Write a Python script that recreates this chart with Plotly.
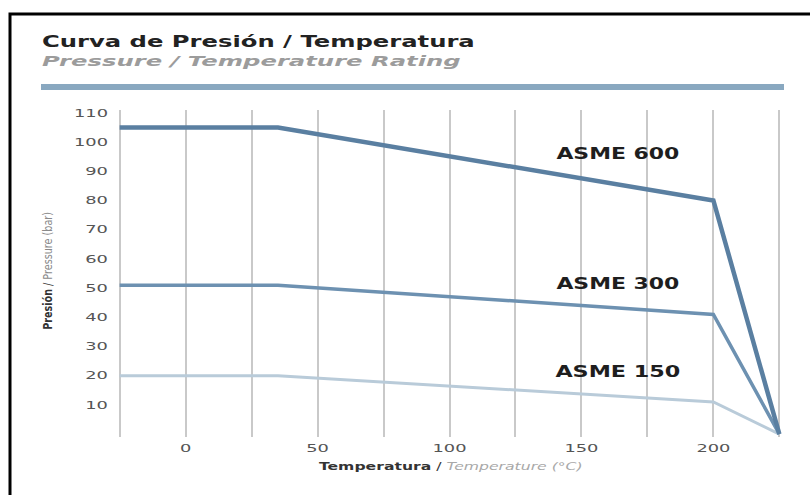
import json
import plotly.graph_objects as go

# Pressure / temperature rating curves (bar vs °C)
temperature = [-25, 35, 200, 225]
asme_600 = [105, 105, 80, 0]
asme_300 = [51, 51, 41, 0]
asme_150 = [20, 20, 11, 0]

series_names = ["ASME 150", "ASME 300", "ASME 600"]
series_values = [asme_150, asme_300, asme_600]
series_colors = ["#b9cbd9", "#6d91b1", "#5a7fa1"]
series_widths = [3, 3.5, 4.5]

# in-plot class labels: (text, temperature, pressure)
class_labels = [("ASME 600", 164, 96), ("ASME 300", 164, 51.5), ("ASME 150", 164, 21.3)]

W, H = 810, 495
ML, MR, MT, MB = 117, 28, 110, 58
PW, PH = W - ML - MR, H - MT - MB


def px(x):
    return (x - ML) / PW


def py(y):
    return 1 - (y - MT) / PH


fig = go.Figure()
for name, vals, col, lw in zip(series_names, series_values, series_colors, series_widths):
    fig.add_trace(go.Scatter(
        x=temperature, y=vals, mode="lines", name=name,
        line=dict(color=col, width=lw), showlegend=False, hoverinfo="skip",
        cliponaxis=False,
    ))

annotations = [
    dict(text="<b>Curva de Presión / Temperatura</b>", xref="paper", yref="paper",
         x=px(40), y=py(41.5), xanchor="left", yanchor="middle", align="left",
         showarrow=False, font=dict(family="DejaVu Sans", size=15, color="#222222")),
    dict(text="<b><i>Pressure / Temperature Rating</i></b>", xref="paper", yref="paper",
         x=px(40), y=py(61), xanchor="left", yanchor="middle", align="left",
         showarrow=False, font=dict(family="DejaVu Sans", size=14, color="#9c9c9c")),
]
for text, tx, ty in class_labels:
    annotations.append(dict(text=f"<b>{text}</b>", x=tx, y=ty, xref="x", yref="y",
                            showarrow=False, xanchor="center", yanchor="middle",
                            font=dict(family="DejaVu Sans", size=16, color="#1e1e1e")))
annotations.append(dict(
    text="<b>Temperatura</b> / <span style='color:#a8a8a8'><i>Temperature (°C)</i></span>",
    xref="paper", yref="paper", x=px(451), y=py(467), xanchor="center", yanchor="middle",
    showarrow=False, font=dict(family="DejaVu Sans", size=11, color="#333333")))
annotations.append(dict(
    text="<b>Presión</b> / <span style='color:#8a8a8a'>Pressure (bar)</span>",
    xref="paper", yref="paper", x=px(48), y=py(271), xanchor="center", yanchor="middle",
    textangle=-90, showarrow=False, font=dict(family="DejaVu Sans", size=9, color="#333333")))

shapes = [
    # header rule
    dict(type="rect", xref="paper", yref="paper", x0=px(41), x1=px(784), y0=py(84), y1=py(90),
         fillcolor="#89a8c0", line=dict(width=0), layer="below"),
    # page frame
    dict(type="rect", xref="paper", yref="paper", x0=px(10), x1=px(840), y0=py(14), y1=py(530),
         fillcolor="rgba(0,0,0,0)", line=dict(color="#000000", width=3)),
]

fig.update_layout(
    width=W, height=H,
    margin=dict(l=ML, r=MR, t=MT, b=MB, pad=0),
    paper_bgcolor="white", plot_bgcolor="white",
    annotations=annotations, shapes=shapes,
    xaxis=dict(range=[-26, 226], tick0=0, dtick=50, showgrid=True, gridcolor="#c9c9c9",
               gridwidth=1.5, zeroline=False, showline=False, ticks="",
               ticklabelstandoff=4,
               minor=dict(dtick=25, tick0=0, showgrid=True, gridcolor="#c9c9c9", gridwidth=1.5),
               tickfont=dict(family="DejaVu Sans", size=10.5, color="#555555")),
    yaxis=dict(range=[-1, 111], tickvals=list(range(10, 111, 10)), showgrid=False,
               zeroline=False, showline=False, ticks="", ticklabelstandoff=8,
               tickfont=dict(family="DejaVu Sans", size=10.5, color="#555555")),
)

# horizontal stretch of the wide display lettering: annotation index -> [width px, vertical scale]
text_fit = {0: [433, 1], 1: [419, 1], 2: [123, 1], 3: [123, 1], 4: [125, 1], 5: [264, 1], 6: [118, 1.4]}
tick_stretch = 1.7

post = """
var gd = document.getElementById('{plot_id}');
var FIT = %s;
var TICK_SX = %s;
function stretch(t, sx, sy) {
  var b = t.getBBox();
  var a = window.getComputedStyle(t).textAnchor;
  var cx = a === 'middle' ? b.x + b.width / 2 : (a === 'end' ? b.x + b.width : b.x);
  var cy = b.y + b.height / 2;
  var tr = t.getAttribute('transform') || '';
  t.setAttribute('transform', tr + ' translate(' + cx + ',' + cy + ') scale(' + sx + ',' + sy +
                 ') translate(' + (-cx) + ',' + (-cy) + ')');
}
gd.querySelectorAll('.annotation').forEach(function (g) {
  var spec = FIT[g.getAttribute('data-index')];
  if (!spec) return;
  var t = g.querySelector('.annotation-text');
  if (!t) return;
  var w = t.getBBox().width;
  if (w > 0) stretch(t, spec[0] / w, spec[1]);
});
gd.querySelectorAll('.xtick text, .ytick text').forEach(function (t) {
  stretch(t, TICK_SX, 1);
});
""" % (json.dumps({str(k): v for k, v in text_fit.items()}), json.dumps(tick_stretch))

fig.write_html("out.html", post_script=post)
